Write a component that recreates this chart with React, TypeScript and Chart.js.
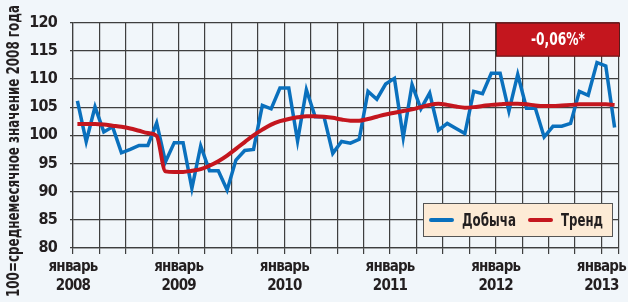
import React, { useEffect, useRef } from 'react';
import { Chart, registerables } from 'chart.js';
Chart.register(...registerables);

const monthWord = 'январь';
const yearLabels = ['2008', '2009', '2010', '2011', '2012', '2013'];
const yTitle = '100=среднемесячное значение 2008 года';
const seriesNames = ['Добыча', 'Тренд'];
const changeLabel = '-0,06%*';

// monthly values, January 2008 – February 2013
const production = [
  106.1, 98.9, 105.05, 100.6, 101.5, 96.9, 97.5, 98.2, 98.2, 102.2, 95.3, 98.7,
  98.7, 90.6, 98.1, 93.7, 93.7, 90.3, 95.6, 97.3, 97.5, 105.3, 104.7, 108.4,
  108.4, 99.0, 108.1, 103.3, 103.3, 96.8, 98.9, 98.6, 99.3, 107.8, 106.4, 109.1,
  110.1, 99.6, 109.0, 104.7, 107.5, 100.9, 102.1, 101.2, 100.3, 107.8, 107.4, 111.0,
  111.0, 104.3, 110.8, 104.8, 104.8, 99.7, 101.6, 101.6, 102.1, 107.8, 107.1, 112.9,
  112.3, 101.4,
];
const trend = [
  102.0, 102.0, 102.0, 101.9, 101.7, 101.5, 101.2, 100.8, 100.4, 99.9, 93.6, 93.5,
  93.5, 93.7, 94.0, 94.6, 95.4, 96.4, 97.6, 98.8, 100.0, 101.0, 101.9, 102.5,
  102.9, 103.2, 103.4, 103.4, 103.3, 103.1, 102.8, 102.6, 102.6, 102.9, 103.3, 103.7,
  104.0, 104.3, 104.6, 105.0, 105.4, 105.6, 105.4, 105.1, 104.9, 105.0, 105.2, 105.4,
  105.5, 105.6, 105.6, 105.5, 105.3, 105.2, 105.2, 105.3, 105.4, 105.5, 105.5, 105.5,
  105.5, 105.4,
];
const yTicks = [80, 85, 90, 95, 100, 105, 110, 115, 120];

const FONT = '"Liberation Sans Narrow", "DejaVu Sans Condensed", "Arial Narrow", sans-serif';
const BG = '#f1f6fa';
const GRID = '#3f3f3f';
const TEXT = '#231f20';
const BLUE = '#0a70bd';
const RED = '#c4161e';

function fitText(ctx: CanvasRenderingContext2D, text: string, x: number, y: number, width: number, align: 'left' | 'center') {
  const w = ctx.measureText(text).width;
  const sx = width / w;
  ctx.save();
  ctx.translate(x, y);
  ctx.scale(sx, 1);
  ctx.textAlign = align;
  ctx.fillText(text, 0, 0);
  ctx.restore();
}

const overlay = {
  id: 'overlay',
  beforeDraw(chart: any) {
    (chart.ctx as any).letterSpacing = '-0.8px';
  },
  afterDraw(chart: any) {
    const ctx = chart.ctx as CanvasRenderingContext2D;
    (ctx as any).letterSpacing = '0px';
    const area = chart.chartArea;
    ctx.save();
    // y title
    ctx.font = `bold 17px ${FONT}`;
    ctx.fillStyle = TEXT;
    ctx.textBaseline = 'middle';
    ctx.translate(15, 151);
    ctx.rotate(-Math.PI / 2);
    fitText(ctx, yTitle, 0, 0, 292, 'center');
    ctx.restore();

    // red box
    ctx.save();
    const bx = area.right - 123, by = area.top, bw = 124, bh = 34;
    ctx.fillStyle = RED;
    ctx.fillRect(bx, by, bw, bh);
    ctx.strokeStyle = '#5a1a1a';
    ctx.lineWidth = 1;
    ctx.strokeRect(bx + 0.5, by + 0.5, bw - 1, bh - 1);
    ctx.fillStyle = '#ffffff';
    ctx.font = `bold 18px ${FONT}`;
    ctx.textBaseline = 'middle';
    fitText(ctx, changeLabel, bx + bw / 2, by + bh / 2 + 1, 54, 'center');
    ctx.restore();

    // legend
    ctx.save();
    const lx = area.right - 196, ly = area.bottom - 45, lw = 190, lh = 34;
    ctx.fillStyle = '#fdebd6';
    ctx.fillRect(lx, ly, lw, lh);
    ctx.strokeStyle = '#555555';
    ctx.lineWidth = 1;
    ctx.strokeRect(lx + 0.5, ly + 0.5, lw - 1, lh - 1);
    const cy = ly + lh / 2;
    ctx.lineCap = 'round';
    ctx.lineWidth = 4;
    ctx.strokeStyle = BLUE;
    ctx.beginPath(); ctx.moveTo(lx + 8, cy); ctx.lineTo(lx + 29, cy); ctx.stroke();
    ctx.strokeStyle = RED;
    ctx.beginPath(); ctx.moveTo(lx + 107, cy); ctx.lineTo(lx + 128, cy); ctx.stroke();
    ctx.fillStyle = TEXT;
    ctx.font = `bold 18px ${FONT}`;
    ctx.textBaseline = 'middle';
    fitText(ctx, seriesNames[0], lx + 39, cy + 1, 54, 'left');
    fitText(ctx, seriesNames[1], lx + 138, cy + 1, 42, 'left');
    ctx.restore();
  },
};

export default function App() {
  const ref = useRef<HTMLCanvasElement>(null);
  useEffect(() => {
    document.body.style.margin = '0';
    document.body.style.background = BG;
    const chart = new Chart(ref.current!, {
      type: 'line',
      data: {
        datasets: [
          {
            label: seriesNames[0],
            data: production.map((v, i) => ({ x: i + 0.5, y: v })),
            borderColor: BLUE,
            borderWidth: 3.5,
            pointRadius: 0,
            tension: 0,
            order: 1,
          },
          {
            label: seriesNames[1],
            data: trend.map((v, i) => ({ x: i + 0.5, y: v })),
            borderColor: RED,
            borderWidth: 4,
            pointRadius: 0,
            cubicInterpolationMode: 'monotone',
            order: 0,
          },
        ],
      },
      options: {
        animation: false,
        responsive: true,
        maintainAspectRatio: false,
        layout: { padding: { top: 16, right: 9, left: 0, bottom: 0 } },
        plugins: { legend: { display: false }, tooltip: { enabled: false } },
        scales: {
          x: {
            type: 'linear',
            min: 0,
            max: 62,
            afterBuildTicks: (s: any) => {
              const t: any[] = [];
              for (let v = 0; v <= 60; v += 3) t.push({ value: v });
              t.push({ value: 62 });
              s.ticks = t;
            },
            afterFit: (s: any) => { s.height = 54; },
            ticks: {
              autoSkip: false,
              maxRotation: 0,
              minRotation: 0,
              padding: 3,
              color: TEXT,
              font: { family: FONT, size: 15, weight: 'bold', lineHeight: 1.3 },
              callback: (v: any) => (v % 12 === 0 && v <= 60 ? [monthWord, yearLabels[v / 12]] : ''),
            },
            grid: { color: GRID, lineWidth: 1.2, tickLength: 6 },
            border: { color: GRID, width: 1.2 },
          },
          y: {
            min: 80,
            max: 120,
            afterBuildTicks: (s: any) => { s.ticks = yTicks.map((v) => ({ value: v })); },
            afterFit: (s: any) => { s.width = 73; },
            ticks: {
              padding: 13,
              color: TEXT,
              font: { family: FONT, size: 16, weight: 'bold' },
            },
            grid: { color: GRID, lineWidth: 1.2, tickLength: 3 },
            border: { color: GRID, width: 1.2 },
          },
        },
      },
      plugins: [overlay],
    } as any);
    return () => chart.destroy();
  }, []);
  return (
    <div style={{ width: 628, height: 302, position: 'relative', background: BG }}>
      <canvas ref={ref} />
    </div>
  );
}
